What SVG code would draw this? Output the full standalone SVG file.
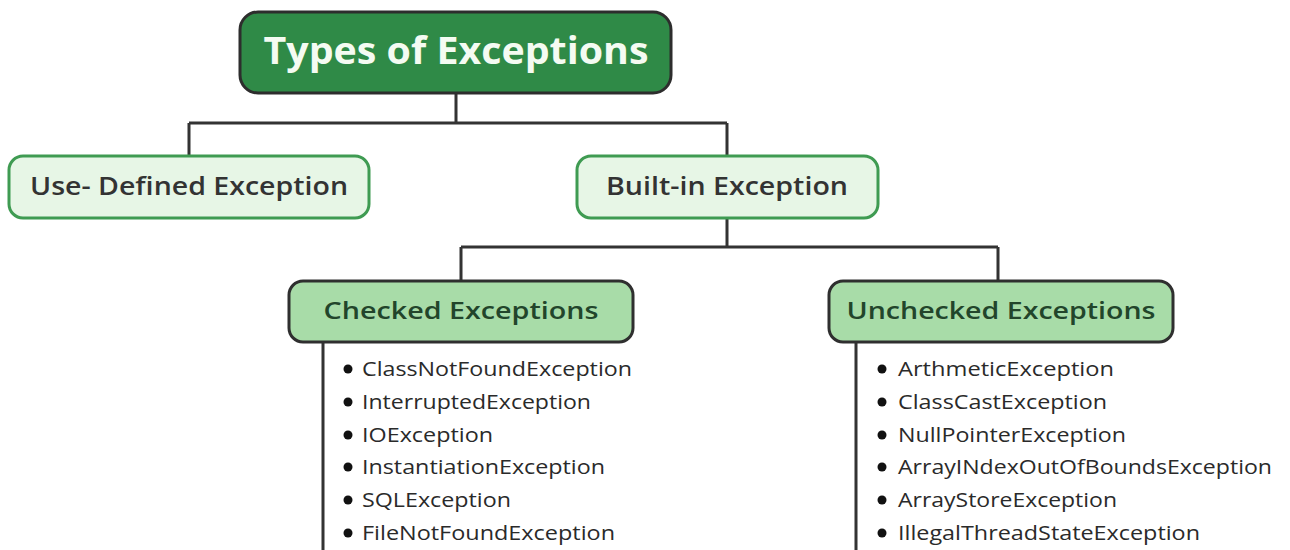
<svg xmlns="http://www.w3.org/2000/svg" width="1290" height="550" viewBox="0 0 1290 550">
<style>
.conn{stroke:#333;stroke-width:3;fill:none}
.lvl1{fill:#e7f6e6;stroke:#3f9b52;stroke-width:3}
.lvl2{fill:#a8dca8;stroke:#2f2f2f;stroke-width:3}
.t1{font-family:"Open Sans","Liberation Sans",sans-serif;font-weight:600;font-size:25px;fill:#333;text-anchor:middle}
.t2{font-family:"Open Sans","Liberation Sans",sans-serif;font-weight:600;font-size:24px;fill:#22452b;text-anchor:middle}
.li{font-family:"Open Sans","Liberation Sans",sans-serif;font-size:20px;fill:#2a2a2a}
.dot{fill:#111}
</style>
<rect width="1290" height="550" fill="#ffffff"/>
<g id="connectors">
<path class="conn" d="M456 93V123M189 123H727M189 123V156M727 123V156"/>
<path class="conn" d="M727 218V247M461 247H998M461 247V281M998 247V281"/>
<path class="conn" d="M323 342V550M856 342V550"/>
</g>
<g id="root">
<rect x="240" y="12" width="431" height="81" rx="18" fill="#2f8a47" stroke="#2d2d2d" stroke-width="3"/>
<text x="456" y="64" font-family="Open Sans, Liberation Sans, sans-serif" font-weight="700" font-size="37" fill="#f4fbf2" text-anchor="middle" textLength="385" lengthAdjust="spacingAndGlyphs">Types of Exceptions</text>
</g>
<g id="user-defined">
<rect class="lvl1" x="9" y="156" width="360" height="62" rx="14"/>
<text class="t1" x="189" y="195" textLength="318" lengthAdjust="spacingAndGlyphs">Use- Defined Exception</text>
</g>
<g id="built-in">
<rect class="lvl1" x="577" y="156" width="301" height="62" rx="14"/>
<text class="t1" x="727" y="195" textLength="242" lengthAdjust="spacingAndGlyphs">Built-in Exception</text>
</g>
<g id="checked">
<rect class="lvl2" x="289" y="281" width="344" height="61" rx="14"/>
<text class="t2" x="461" y="319" textLength="275" lengthAdjust="spacingAndGlyphs">Checked Exceptions</text>
<circle class="dot" cx="348" cy="369" r="4.5"/>
<text class="li" x="362" y="376" textLength="270" lengthAdjust="spacingAndGlyphs">ClassNotFoundException</text>
<circle class="dot" cx="348" cy="402" r="4.5"/>
<text class="li" x="362" y="409" textLength="229" lengthAdjust="spacingAndGlyphs">InterruptedException</text>
<circle class="dot" cx="348" cy="435" r="4.5"/>
<text class="li" x="362" y="442" textLength="131" lengthAdjust="spacingAndGlyphs">IOException</text>
<circle class="dot" cx="348" cy="467" r="4.5"/>
<text class="li" x="362" y="474" textLength="243" lengthAdjust="spacingAndGlyphs">InstantiationException</text>
<circle class="dot" cx="348" cy="500" r="4.5"/>
<text class="li" x="362" y="507" textLength="149" lengthAdjust="spacingAndGlyphs">SQLException</text>
<circle class="dot" cx="348" cy="533" r="4.5"/>
<text class="li" x="362" y="540" textLength="253" lengthAdjust="spacingAndGlyphs">FileNotFoundException</text>
</g>
<g id="unchecked">
<rect class="lvl2" x="829" y="281" width="344" height="61" rx="14"/>
<text class="t2" x="1001" y="319" textLength="309" lengthAdjust="spacingAndGlyphs">Unchecked Exceptions</text>
<circle class="dot" cx="882" cy="369" r="4.5"/>
<text class="li" x="898" y="376" textLength="216" lengthAdjust="spacingAndGlyphs">ArthmeticException</text>
<circle class="dot" cx="882" cy="402" r="4.5"/>
<text class="li" x="898" y="409" textLength="209" lengthAdjust="spacingAndGlyphs">ClassCastException</text>
<circle class="dot" cx="882" cy="435" r="4.5"/>
<text class="li" x="898" y="442" textLength="228" lengthAdjust="spacingAndGlyphs">NullPointerException</text>
<circle class="dot" cx="882" cy="467" r="4.5"/>
<text class="li" x="898" y="474" textLength="374" lengthAdjust="spacingAndGlyphs">ArrayINdexOutOfBoundsException</text>
<circle class="dot" cx="882" cy="500" r="4.5"/>
<text class="li" x="898" y="507" textLength="219" lengthAdjust="spacingAndGlyphs">ArrayStoreException</text>
<circle class="dot" cx="882" cy="533" r="4.5"/>
<text class="li" x="898" y="540" textLength="302" lengthAdjust="spacingAndGlyphs">IllegalThreadStateException</text>
</g>
</svg>
